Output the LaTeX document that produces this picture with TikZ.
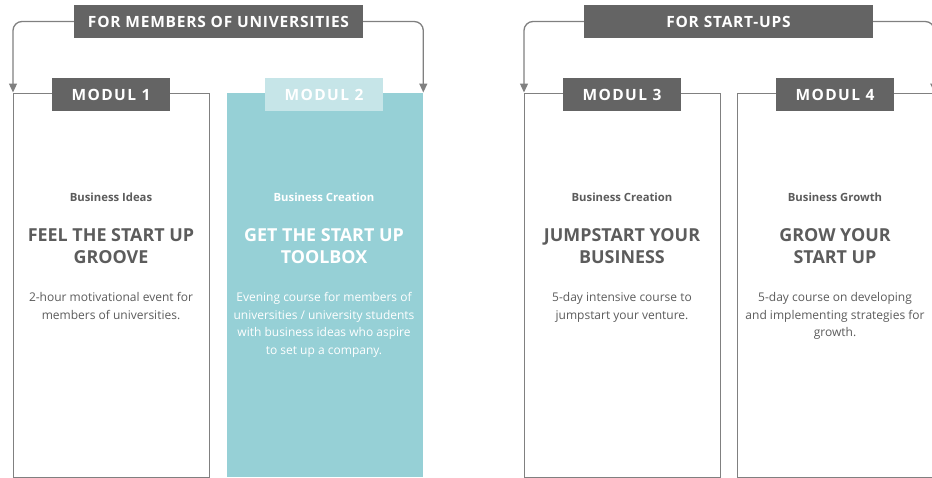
\documentclass[tikz,border=0pt]{standalone}
\usepackage{fontspec}
\setmainfont{Open Sans}
\usetikzlibrary{arrows.meta}
\definecolor{tabgray}{HTML}{646464}
\definecolor{linegray}{HTML}{808080}
\definecolor{txtgray}{HTML}{5C5C5C}
\definecolor{teal}{HTML}{96D0D6}
\definecolor{lightteal}{HTML}{C6E5E8}
\tikzset{
  header/.style={fill=tabgray, text=white, minimum width=289pt, minimum height=33pt, inner sep=0pt,
    font=\fontsize{15.5}{17}\selectfont\bfseries\addfontfeatures{LetterSpace=5}},
  tab/.style={fill=tabgray, text=white, minimum width=118pt, minimum height=33pt, inner sep=0pt,
    font=\fontsize{15.5}{17}\selectfont\bfseries\addfontfeatures{LetterSpace=9}},
  tabhl/.style={tab, fill=lightteal},
  modbox/.style={draw=linegray, line width=1.3pt, fill=white, minimum width=196pt, minimum height=384pt, inner sep=0pt, anchor=north west},
  modboxhl/.style={modbox, draw=none, fill=teal},
  conn/.style={draw=linegray, line width=1.3pt, rounded corners=9pt, -{Triangle[width=8pt,length=9pt]}},
  sub/.style={text=txtgray, font=\fontsize{11.3}{13}\selectfont\bfseries},
  title/.style={text=txtgray, align=center, font=\fontsize{17.9}{22}\selectfont\bfseries},
  desc/.style={text=txtgray, align=center, font=\fontsize{12}{17.5}\selectfont},
}
\begin{document}
\begin{tikzpicture}[x=1pt,y=-1pt]
\useasboundingbox (0,0) rectangle (932,477);
\clip (0,0) rectangle (932,477);
% boxes
\node[modbox] (b1) at (13,92.5) {};
\node[modboxhl] (b2) at (226,92.5) {};
\node[modbox] (b3) at (524,92.5) {};
\node[modbox] (b4) at (737,92.5) {};
% tabs
\node[tab] (t1) at (111,94.5) {MODUL 1};
\node[tabhl] (t2) at (324,94.5) {MODUL 2};
\node[tab] (t3) at (622,94.5) {MODUL 3};
\node[tab] (t4) at (835,94.5) {MODUL 4};
% headers
\node[header] (h1) at (218.5,21.5) {FOR MEMBERS OF UNIVERSITIES};
\node[header] (h2) at (728.5,21.5) {FOR START-UPS};
% connectors
\draw[conn] (h1.west) -| (b1.north west);
\draw[conn] (h1.east) -| (b2.north east);
\draw[conn] (h2.west) -| (b3.north west);
\draw[conn] (h2.east) -| (b4.north east);
% texts
\node[sub] (s1) at (111,197) {Business Ideas};
\node[sub, text=white] (s2) at (324,197) {Business Creation};
\node[sub] (s3) at (622,197) {Business Creation};
\node[sub] (s4) at (835,197) {Business Growth};
\node[title] (ti1) at (111,246) {FEEL THE START UP\\GROOVE};
\node[title, text=white] (ti2) at (324,246) {GET THE START UP\\TOOLBOX};
\node[title] (ti3) at (622,246) {JUMPSTART YOUR\\BUSINESS};
\node[title] (ti4) at (835,246) {GROW YOUR\\START UP};
\node[desc, anchor=north] (d1) at (111,289) {2-hour motivational event for\\members of universities.};
\node[desc, anchor=north, text=white] (d2) at (324,289) {Evening course for members of\\universities / university students\\with business ideas who aspire\\to set up a company.};
\node[desc, anchor=north] (d3) at (622,289) {5-day intensive course to\\jumpstart your venture.};
\node[desc, anchor=north] (d4) at (835,289) {5-day course on developing\\and implementing strategies for\\growth.};
\end{tikzpicture}
\end{document}
